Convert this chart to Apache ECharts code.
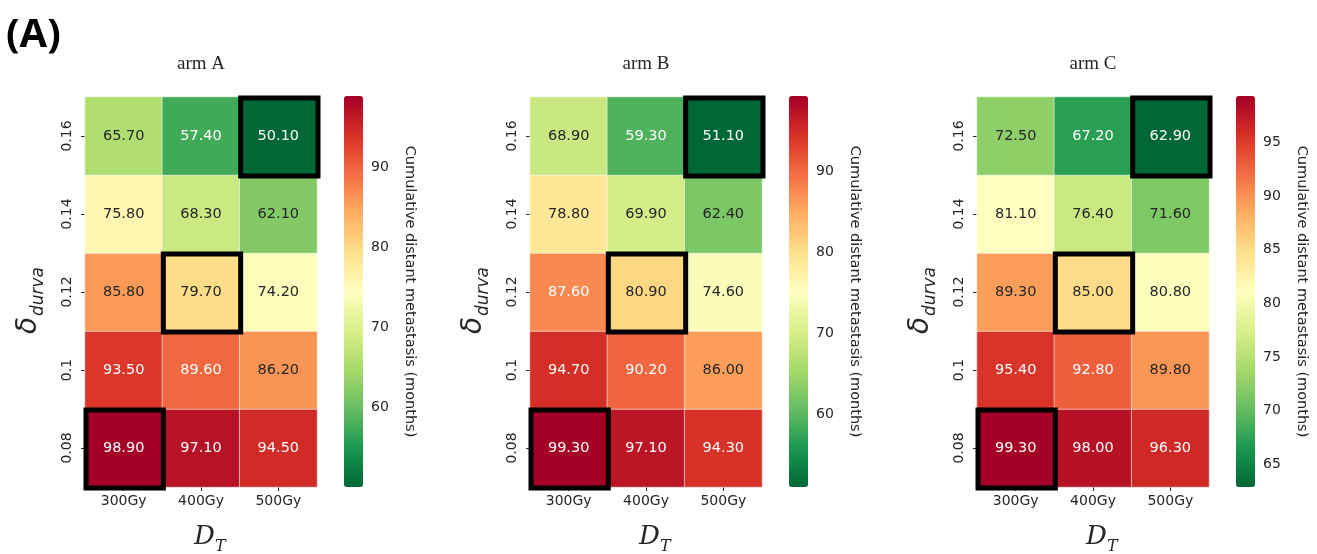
<!DOCTYPE html>
<html>
<head>
<meta charset="utf-8">
<script src="https://cdn.jsdelivr.net/npm/echarts@6/dist/echarts.min.js"></script>
<style>
html,body{margin:0;padding:0;background:#fff;}
#chart{width:1317px;height:554px;}
</style>
</head>
<body>
<div id="chart"></div>
<script>
// ---------------- data ----------------
const panelLabel = '(A)';
const xCats = ['300Gy', '400Gy', '500Gy'];
const yCats = ['0.08', '0.1', '0.12', '0.14', '0.16']; // bottom -> top
const armTitles = ['arm A', 'arm B', 'arm C'];
// rows follow yCats order (0.08 first), columns follow xCats
const armA = [
  [98.90, 97.10, 94.50],
  [93.50, 89.60, 86.20],
  [85.80, 79.70, 74.20],
  [75.80, 68.30, 62.10],
  [65.70, 57.40, 50.10]
];
const armB = [
  [99.30, 97.10, 94.30],
  [94.70, 90.20, 86.00],
  [87.60, 80.90, 74.60],
  [78.80, 69.90, 62.40],
  [68.90, 59.30, 51.10]
];
const armC = [
  [99.30, 98.00, 96.30],
  [95.40, 92.80, 89.80],
  [89.30, 85.00, 80.80],
  [81.10, 76.40, 71.60],
  [72.50, 67.20, 62.90]
];
const highlightCells = [['300Gy', '0.08'], ['400Gy', '0.12'], ['500Gy', '0.16']];
const cbTicksA = [60, 70, 80, 90];
const cbTicksB = [60, 70, 80, 90];
const cbTicksC = [65, 70, 75, 80, 85, 90, 95];
const cbLabel = 'Cumulative distant metastasis (months)';
const xLabelMain = 'D', xLabelSub = 'T';
const yLabelMain = 'δ', yLabelSub = 'durva';

// ---------------- style / layout ----------------
const arms = [armA, armB, armC];
const cbTicks = [cbTicksA, cbTicksB, cbTicksC];
const RdYlGn_r = ['#006837', '#1a9850', '#66bd63', '#a6d96a', '#d9ef8b', '#ffffbf',
                  '#fee08b', '#fdae61', '#f46d43', '#d73027', '#a50026'];
const panelLeft = [85, 530, 977];
const hmTop = 97, hmW = 232, hmH = 390;
const cbOffset = 259, cbW = 19, cbTop = 96, cbH = 391;
const textDark = '#262626';
const tickFont = 'DejaVu Sans';

function hexToRgb(h) {
  return [parseInt(h.slice(1, 3), 16), parseInt(h.slice(3, 5), 16), parseInt(h.slice(5, 7), 16)];
}
function cmap(t) {
  t = Math.max(0, Math.min(1, t));
  const n = RdYlGn_r.length - 1;
  const p = t * n;
  const i = Math.min(Math.floor(p), n - 1);
  const f = p - i;
  const a = hexToRgb(RdYlGn_r[i]), b = hexToRgb(RdYlGn_r[i + 1]);
  return a.map((v, k) => v + (b[k] - v) * f);
}
function luminance(rgb) {
  const c = rgb.map(v => {
    v = v / 255;
    return v <= 0.03928 ? v / 12.92 : Math.pow((v + 0.055) / 1.055, 2.4);
  });
  return 0.2126 * c[0] + 0.7152 * c[1] + 0.0722 * c[2];
}

const grid = [], xAxis = [], yAxis = [], series = [], visualMap = [], title = [], graphic = [];

arms.forEach((vals, a) => {
  const flat = vals.flat();
  const vmin = Math.min(...flat), vmax = Math.max(...flat);
  const left = panelLeft[a];
  const cx = left + hmW / 2;

  grid.push({left: left, top: hmTop, width: hmW, height: hmH});
  xAxis.push({
    type: 'category', gridIndex: a, data: xCats,
    axisLine: {show: false},
    axisTick: {show: true, alignWithLabel: true, length: 4, lineStyle: {color: textDark, width: 1}},
    axisLabel: {fontFamily: tickFont, fontSize: 14, color: textDark, margin: 7},
    splitLine: {show: false}
  });
  yAxis.push({
    type: 'category', gridIndex: a, data: yCats,
    axisLine: {show: false},
    axisTick: {show: true, alignWithLabel: true, length: 4, lineStyle: {color: textDark, width: 1}},
    axisLabel: {fontFamily: tickFont, fontSize: 14, color: textDark, rotate: 90, margin: 11},
    splitLine: {show: false}
  });

  const data = [];
  yCats.forEach((y, yi) => {
    xCats.forEach((x, xi) => {
      const v = vals[yi][xi];
      const lum = luminance(cmap((v - vmin) / (vmax - vmin)));
      data.push({value: [xi, yi, v], label: {color: lum > 0.408 ? textDark : '#ffffff'}});
    });
  });
  series.push({
    type: 'heatmap', xAxisIndex: a, yAxisIndex: a, data: data,
    itemStyle: {borderColor: 'rgba(255,255,255,0.55)', borderWidth: 1},
    label: {show: true, fontFamily: tickFont, fontSize: 14.5,
            formatter: p => p.value[2].toFixed(2)},
    emphasis: {disabled: true}
  });

  visualMap.push({
    type: 'continuous', seriesIndex: a, min: vmin, max: vmax,
    inRange: {color: RdYlGn_r},
    left: left + cbOffset, top: cbTop, itemWidth: cbW, itemHeight: cbH,
    padding: 0, calculable: false, hoverLink: false, text: null,
    orient: 'vertical'
  });

  title.push({
    text: armTitles[a], left: cx, top: 55, textAlign: 'center', padding: 0,
    textStyle: {fontFamily: 'Liberation Serif', fontSize: 19, fontWeight: 'normal', color: textDark}
  });

  // x axis label D_T
  graphic.push({
    type: 'group', left: cx - 7, top: 524,
    children: [
      {type: 'text', x: 0, y: 0, style: {text: xLabelMain, fontFamily: 'DejaVu Serif', fontStyle: 'italic', fontSize: 26, fill: textDark}},
      {type: 'text', x: 21, y: 15, style: {text: xLabelSub, fontFamily: 'DejaVu Serif', fontStyle: 'italic', fontSize: 16, fill: textDark}}
    ]
  });
  // y axis label delta_durva (rotated)
  graphic.push({
    type: 'group', x: left - 70, y: 334, rotation: Math.PI / 2,
    children: [
      {type: 'text', x: 0, y: 0, style: {text: yLabelMain, fontFamily: 'DejaVu Sans', fontStyle: 'italic', fontSize: 28, fill: textDark}},
      {type: 'text', x: 18, y: 15, style: {text: yLabelSub, fontFamily: 'DejaVu Sans', fontStyle: 'italic', fontSize: 17, fill: textDark}}
    ]
  });
});

// highlight boxes
arms.forEach((vals, a) => {
  series.push({
    type: 'custom', xAxisIndex: a, yAxisIndex: a, z: 5,
    data: highlightCells.map(c => [xCats.indexOf(c[0]), yCats.indexOf(c[1])]),
    encode: {x: 0, y: 1},
    silent: true,
    renderItem: function (params, api) {
      const c = api.coord([api.value(0), api.value(1)]);
      const s = api.size([1, 1]);
      return {
        type: 'rect',
        shape: {x: c[0] - s[0] / 2 + 1, y: c[1] - s[1] / 2 + 1, width: s[0], height: s[1]},
        style: {fill: 'none', stroke: '#000', lineWidth: 5}
      };
    }
  });
});

// colorbar axes
arms.forEach((vals, a) => {
  const flat = vals.flat();
  const vmin = Math.min(...flat), vmax = Math.max(...flat);
  const gi = 3 + a;
  grid.push({left: panelLeft[a] + cbOffset, top: cbTop, width: cbW, height: cbH});
  xAxis.push({type: 'value', gridIndex: gi, show: false, min: 0, max: 1});
  yAxis.push({
    type: 'value', gridIndex: gi, position: 'right', min: vmin, max: vmax,
    axisLine: {show: false},
    splitLine: {show: false},
    axisTick: {show: true, length: 4, customValues: cbTicks[a], lineStyle: {color: textDark}},
    axisLabel: {show: true, customValues: cbTicks[a], fontFamily: tickFont, fontSize: 14, color: textDark, margin: 8},
    name: cbLabel, nameLocation: 'middle', nameRotate: -90, nameGap: 39,
    nameTextStyle: {fontFamily: tickFont, fontSize: 14.5, color: textDark}
  });
});

graphic.push({
  type: 'text', left: 6, top: 16,
  style: {text: panelLabel, fontFamily: 'Open Sans', fontWeight: 'bold', fontSize: 40, fill: '#000'}
});

const chart = echarts.init(document.getElementById('chart'), null, {renderer: 'canvas'});
chart.setOption({
  backgroundColor: '#ffffff',
  animation: false,
  title: title,
  grid: grid,
  xAxis: xAxis,
  yAxis: yAxis,
  visualMap: visualMap,
  series: series,
  graphic: graphic
});
</script>
</body>
</html>
